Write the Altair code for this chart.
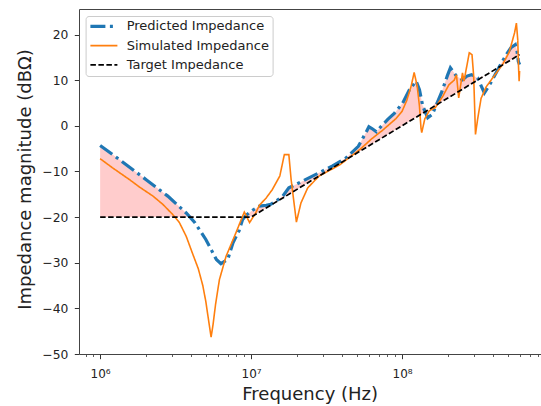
import altair as alt
import numpy as np
import pandas as pd

# ---------------- data ----------------
series_order = ["Predicted Impedance", "Simulated Impedance", "Target Impedance"]

pred_freq = [1.000e6, 1.343e6, 2.018e6, 2.805e6, 3.715e6, 4.217e6, 5.012e6, 5.888e6,
             6.310e6, 6.998e6, 7.586e6, 8.318e6, 8.790e6, 9.333e6, 1.023e7, 1.135e7,
             1.259e7, 1.349e7, 1.462e7, 1.622e7, 1.778e7, 1.995e7, 2.291e7, 2.818e7,
             3.467e7, 4.266e7, 5.129e7, 5.754e7, 6.026e7, 6.310e7, 6.761e7, 7.413e7,
             8.035e7, 8.913e7, 1.009e8, 1.117e8, 1.239e8, 1.303e8, 1.371e8, 1.479e8,
             1.585e8, 1.820e8, 1.995e8, 2.089e8, 2.291e8, 2.512e8, 2.692e8, 2.884e8,
             3.162e8, 3.508e8, 3.802e8, 4.416e8, 4.898e8, 5.248e8, 5.623e8, 5.754e8,
             5.888e8, 6.000e8]
pred_db = [-4.3, -7.4, -11.8, -15.4, -19.1, -21.1, -24.9, -29.3,
           -30.2, -29.3, -25.6, -23.0, -20.5, -19.5, -18.5, -17.6,
           -17.4, -17.2, -16.5, -15.4, -13.6, -12.8, -11.8, -10.3,
           -8.8, -7.0, -4.5, -1.5, -0.2, -0.6, -1.3, 0.2,
           1.4, 2.8, 5.0, 7.9, 9.8, 7.9, 4.3, 1.75,
           2.5, 7.2, 11.0, 12.7, 10.9, 10.1, 10.9, 11.2,
           10.5, 7.2, 9.0, 13.0, 15.6, 17.1, 17.8, 16.7,
           14.1, 13.4]

sim_freq = [1.000e6, 1.208e6, 1.567e6, 1.820e6, 2.239e6, 2.600e6, 3.020e6, 3.350e6,
            3.715e6, 4.074e6, 4.467e6, 4.786e6, 5.012e6, 5.248e6, 5.433e6, 5.598e6,
            5.821e6, 6.166e6, 6.823e6, 7.943e6, 8.610e6, 9.016e6, 9.772e6, 1.072e7,
            1.135e7, 1.259e7, 1.380e7, 1.549e7, 1.660e7, 1.778e7, 1.841e7, 1.936e7,
            1.995e7, 2.138e7, 2.371e7, 2.818e7, 3.846e7, 5.248e7, 6.310e7, 7.413e7,
            9.120e7, 1.000e8, 1.072e8, 1.148e8, 1.202e8, 1.259e8, 1.303e8, 1.334e8,
            1.349e8, 1.413e8, 1.514e8, 1.660e8, 1.862e8, 2.042e8, 2.213e8, 2.291e8,
            2.371e8, 2.512e8, 2.570e8, 2.786e8, 2.904e8, 2.979e8, 3.062e8, 3.162e8,
            3.334e8, 3.597e8, 3.981e8, 4.645e8, 5.129e8, 5.559e8, 5.715e8, 5.834e8,
            5.902e8, 5.957e8, 6.000e8]
sim_db = [-7.2, -9.2, -11.8, -13.4, -15.4, -17.2, -19.4, -21.2,
          -24.2, -27.8, -31.3, -35.0, -38.5, -43.0, -46.3, -43.5,
          -39.0, -33.7, -28.6, -23.4, -20.5, -18.9, -21.2, -19.1,
          -17.4, -15.8, -14.0, -11.0, -6.3, -6.3, -11.8, -17.6,
          -21.1, -16.9, -13.6, -11.0, -8.6, -5.2, -2.8, -1.0,
          1.6, 3.2, 5.5, 8.7, 11.7, 8.7, 4.3, -0.5,
          -1.5, 1.5, 3.3, 4.0, 6.5, 9.0, 10.0, 11.2,
          6.1, 11.6, 9.8, 16.0, 15.6, 10.9, -1.9, 1.4,
          6.0, 8.5, 10.5, 13.5, 16.2, 20.4, 22.5, 18.9,
          13.1, 9.8, 12.0]

target_freq = [1.0e6, 1.0e7, 6.0e8]
target_db = [-20.0, -20.0, 15.6]

y_ticks = [-50, -40, -30, -20, -10, 0, 10, 20]
x_major = [1e6, 1e7, 1e8]
x_minor = [m * 10.0 ** e for e in (5, 6, 7, 8) for m in range(2, 10)
           if 10 ** 5.86 < m * 10.0 ** e < 10 ** 8.92]

colors = ["#1f77b4", "#ff7f0e", "#000000"]
dashes = [[15, 4.5, 3, 4.5], [1, 0], [5.5, 2.5]]
widths = [3.2, 1.6, 1.7]

# ---------------- tables ----------------
lines_df = pd.concat([
    pd.DataFrame({"freq": pred_freq, "value": pred_db, "series": series_order[0]}),
    pd.DataFrame({"freq": sim_freq, "value": sim_db, "series": series_order[1]}),
])
target_df = pd.DataFrame({"freq": target_freq, "value": target_db, "series": series_order[2]})

tgt_at_pred = np.interp(np.log10(pred_freq), np.log10(target_freq), target_db)
fill_df = pd.DataFrame({
    "freq": pred_freq,
    "value": np.maximum(np.array(pred_db), tgt_at_pred),
    "lower": tgt_at_pred,
})

FONT = "DejaVu Sans"
TXT = "#222222"
AX = "#444444"

x_scale = alt.Scale(type="log", domain=[10 ** 5.86, 10 ** 8.92], nice=False)
y_scale = alt.Scale(domain=[-50, 25.6], nice=False, zero=False)

legend = alt.Legend(
    title=None, orient="none", legendX=6.6, legendY=7,
    symbolType="stroke", symbolSize=729, labelFont=FONT, labelFontSize=13,
    labelColor=TXT, labelOffset=7.3, rowPadding=4.3, padding=2.8, clipHeight=15,
    fillColor="rgba(255,255,255,0.8)", strokeColor="#cccccc", cornerRadius=3,
    labelLimit=300,
)

enc_color = alt.Color("series:N", scale=alt.Scale(domain=series_order, range=colors), legend=legend)
enc_dash = alt.StrokeDash("series:N", scale=alt.Scale(type="ordinal", domain=series_order, range=dashes), legend=legend)
enc_width = alt.StrokeWidth("series:N", scale=alt.Scale(type="ordinal", domain=series_order, range=widths), legend=legend)

minor_axis = alt.Axis(orient="bottom", values=x_minor, labels=False, tickSize=2.5,
                      tickColor="#333333", tickWidth=0.8, domain=False, grid=False, title=None)
major_axis = alt.Axis(
    orient="bottom", values=x_major,
    labelExpr="'10' + (datum.value >= 5e7 ? '⁸' : (datum.value >= 5e6 ? '⁷' : '⁶'))",
    tickSize=4.7, tickColor="#333333", tickWidth=1, domain=True, domainColor=AX, domainWidth=1,
    labelFont=FONT, labelFontSize=12, labelColor=TXT, labelBaseline="alphabetic",
    labelPadding=19, labelFlush=False, labelOverlap=False, grid=False,
    title="Frequency (Hz)", titleFont=FONT, titleFontSize=18, titleFontWeight="normal",
    titleColor=TXT, titleX=230.7, titleY=40.2, titleBaseline="middle", titleAlign="center",
)
top_axis = alt.Axis(orient="top", labels=False, ticks=False, domain=True, domainColor=AX,
                    domainWidth=1, grid=False, title=None)
y_axis = alt.Axis(
    orient="left", values=y_ticks, tickSize=4.7, tickColor="#333333", tickWidth=1,
    domain=True, domainColor=AX, domainWidth=1, grid=False,
    labelFont=FONT, labelFontSize=12.3, labelColor=TXT, labelPadding=6.5,
    title="Impedance magnitude (dBΩ)", titleFont=FONT, titleFontSize=18,
    titleFontWeight="normal", titleColor=TXT, titleX=-54, titleY=170,
    titleAngle=270, titleBaseline="middle", titleAlign="center",
)

fill = alt.Chart(fill_df).mark_area(color="#ff0000", opacity=0.2).encode(
    x=alt.X("freq:Q", scale=x_scale, axis=minor_axis),
    y=alt.Y("value:Q", scale=y_scale, axis=y_axis),
    y2="lower:Q",
)

lines = alt.Chart(lines_df).mark_line().encode(
    x=alt.X("freq:Q", scale=x_scale, axis=major_axis),
    y=alt.Y("value:Q", scale=y_scale, axis=y_axis),
    color=enc_color, strokeDash=enc_dash, strokeWidth=enc_width,
    order="freq:Q",
)

target = alt.Chart(target_df).mark_line().encode(
    x=alt.X("freq:Q", scale=x_scale, axis=top_axis),
    y=alt.Y("value:Q", scale=y_scale, axis=y_axis),
    color=enc_color, strokeDash=enc_dash, strokeWidth=enc_width,
)

chart = alt.layer(fill, lines, target).resolve_axis(x="independent", y="shared").properties(
    width=462, height=345,
    autosize=alt.AutoSizeParams(type="none"),
    padding={"left": 79, "top": 9, "right": 0, "bottom": 52},
).configure(background="white").configure_view(strokeWidth=0)

chart.save("out.html", embed_options={"renderer": "svg", "actions": False})
